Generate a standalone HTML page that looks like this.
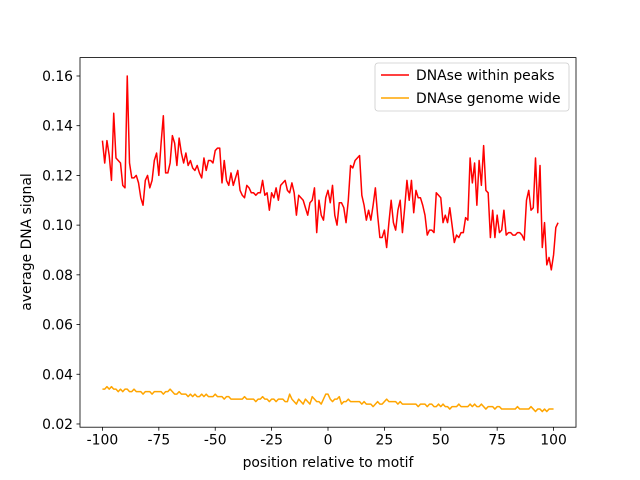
<!DOCTYPE html>
<html><head><meta charset="utf-8"><style>
body{margin:0;background:#fff}
svg{display:block;font-family:"DejaVu Sans","Liberation Sans",sans-serif}
</style></head><body>
<svg id="chart" width="640" height="480" viewBox="0 0 640 480">
<rect width="640" height="480" fill="#fff"/>
<g id="series"></g>
<rect x="80" y="57.6" width="496" height="369.6" fill="none" stroke="#000" stroke-width="0.8"/>
<g id="xt"></g><g id="yt"></g>
<text x="328" y="467" font-size="13.9" text-anchor="middle">position relative to motif</text>
<text transform="translate(31,242) rotate(-90)" font-size="13.9" text-anchor="middle">average DNA signal</text>
<g>
<rect x="375" y="63" width="194" height="48" rx="3" fill="#fff" fill-opacity="0.8" stroke="#ccc" stroke-width="0.8"/>
<g>
<line x1="381" y1="75" x2="409" y2="75" stroke="red" stroke-width="1.5"/>
<text x="416" y="80" font-size="13.9">DNAse within peaks</text></g>
<g>
<line x1="381" y1="98" x2="409" y2="98" stroke="orange" stroke-width="1.5"/>
<text x="416" y="103" font-size="13.9">DNAse genome wide</text></g>
</g>
</svg>
<script>
const xStart = -100;
const peaks = [0.134,0.125,0.134,0.128,0.118,0.145,0.127,0.126,0.125,0.116,0.115,0.160,0.125,0.119,0.119,0.120,0.117,0.111,0.108,0.118,0.120,0.115,0.118,0.126,0.129,0.120,0.133,0.144,0.121,0.121,0.125,0.136,0.133,0.124,0.135,0.129,0.125,0.129,0.124,0.126,0.123,0.122,0.124,0.121,0.119,0.127,0.122,0.126,0.126,0.125,0.130,0.131,0.131,0.117,0.126,0.118,0.116,0.121,0.116,0.119,0.122,0.114,0.112,0.111,0.116,
0.115,0.113,0.113,0.112,0.113,0.113,0.118,0.112,0.113,0.106,0.113,0.111,0.115,0.110,0.116,0.117,0.118,0.114,0.113,0.117,0.113,0.104,0.112,0.111,0.110,0.107,0.104,0.109,0.110,0.115,0.097,0.110,0.104,0.102,0.111,0.114,0.109,0.116,0.104,0.100,0.109,0.109,0.107,0.101,0.110,0.124,0.123,0.126,0.127,0.128,0.112,0.108,0.102,0.106,0.102,0.108,0.115,0.104,0.095,0.095,0.098,0.091,0.101,0.110,0.101,0.098,0.106,0.110,0.097,0.107,0.118,0.110,0.118,0.105,0.114,0.111,0.111,0.108,0.104,0.096,0.098,0.098,0.097,0.113,0.112,0.111,0.101,0.104,0.101,0.107,0.100,0.093,0.096,0.095,0.097,0.097,0.103,0.102,0.127,0.117,0.125,0.108,0.126,0.116,0.132,0.114,0.113,0.095,0.106,0.095,0.104,0.097,0.098,0.106,0.096,0.097,0.097,0.096,0.096,0.097,0.097,0.096,0.094,0.110,0.114,0.106,0.107,0.127,0.105,0.124,0.091,0.101,0.084,0.087,0.082,0.088,0.099,0.101];
const genome = [0.034,0.034,0.035,0.034,0.035,0.034,0.034,0.033,0.034,0.033,0.034,
0.034,0.033,0.033,0.034,0.033,0.033,0.033,0.032,0.033,0.033,
0.033,0.032,0.033,0.033,0.033,0.033,0.032,0.033,0.033,0.034,
0.033,0.032,0.032,0.033,0.032,0.032,0.032,0.031,0.032,0.031,
0.032,0.031,0.031,0.032,0.031,0.032,0.031,0.031,0.031,0.032,
0.031,0.031,0.031,0.030,0.031,0.031,0.030,0.030,0.030,0.030,
0.030,0.030,0.031,0.030,0.030,0.030,0.030,0.029,0.030,0.030,
0.031,0.030,0.030,0.029,0.030,0.030,0.029,0.030,0.030,0.030,
0.029,0.029,0.032,0.030,0.029,0.028,0.030,0.029,0.028,0.030,
0.029,0.028,0.031,0.030,0.029,0.029,0.028,0.030,0.032,0.032,
0.030,0.029,0.030,0.030,0.031,0.028,0.029,0.029,0.030,0.029,
0.029,0.029,0.029,0.029,0.028,0.029,0.028,0.028,0.028,0.027,
0.028,0.029,0.028,0.028,0.029,0.030,0.029,0.029,0.029,0.029,
0.028,0.029,0.028,0.028,0.028,0.028,0.028,0.028,0.028,0.027,
0.028,0.028,0.028,0.027,0.028,0.028,0.027,0.027,0.028,0.027,
0.028,0.027,0.027,0.026,0.027,0.027,0.027,0.028,0.027,0.027,
0.027,0.027,0.028,0.027,0.028,0.027,0.027,0.028,0.027,0.026,
0.027,0.027,0.027,0.026,0.027,0.027,0.026,0.026,0.026,0.026,
0.026,0.026,0.026,0.027,0.026,0.026,0.026,0.026,0.026,0.027,
0.026,0.025,0.026,0.026,0.025,0.026,0.025,0.026,0.026,0.026];
const xTicks = [-100,-75,-50,-25,0,25,50,75,100];
const yTicks = [0.02,0.04,0.06,0.08,0.10,0.12,0.14,0.16];
const yTickLabels = ["0.02","0.04","0.06","0.08","0.10","0.12","0.14","0.16"];

const NS="http://www.w3.org/2000/svg";
const L=80,R=576,T=57.6,B=427.2;
const xmin=-109.95,xmax=109.95,ymin=0.0187,ymax=0.1674;
const sx=v=>L+(v-xmin)/(xmax-xmin)*(R-L);
const sy=v=>B-(v-ymin)/(ymax-ymin)*(B-T);
function mk(t,a,p){const e=document.createElementNS(NS,t);for(const k in a)e.setAttribute(k,a[k]);p.appendChild(e);return e;}
const g=document.getElementById('series');
function drawLine(vals,color,name){
  const d=vals.map((v,i)=>(i?'L':'M')+sx(xStart+i).toFixed(2)+','+sy(v).toFixed(2)).join('');
  const p=mk('path',{d:d,fill:'none',stroke:color,'stroke-width':1.5,'stroke-linejoin':'round'},g);
  
  
}
drawLine(peaks,'red','line-dnase-within-peaks');
drawLine(genome,'orange','line-dnase-genome-wide');
const xt=document.getElementById('xt');
xTicks.forEach(v=>{
  const x=sx(v);
  mk('line',{x1:x,x2:x,y1:B,y2:B+3.5,stroke:'#000','stroke-width':0.8},xt);
  const t=mk('text',{x:x,y:B+17.5,'font-size':13.9,'text-anchor':'middle'},xt);
  t.textContent=v;
  
  
});
const yt=document.getElementById('yt');
yTicks.forEach((v,i)=>{
  const y=sy(v);
  mk('line',{x1:L-3.5,x2:L,y1:y,y2:y,stroke:'#000','stroke-width':0.8},yt);
  const t=mk('text',{x:L-7,y:y+5,'font-size':13.9,'text-anchor':'end'},yt);
  t.textContent=yTickLabels[i];
  
  
});
</script>
</body></html>
